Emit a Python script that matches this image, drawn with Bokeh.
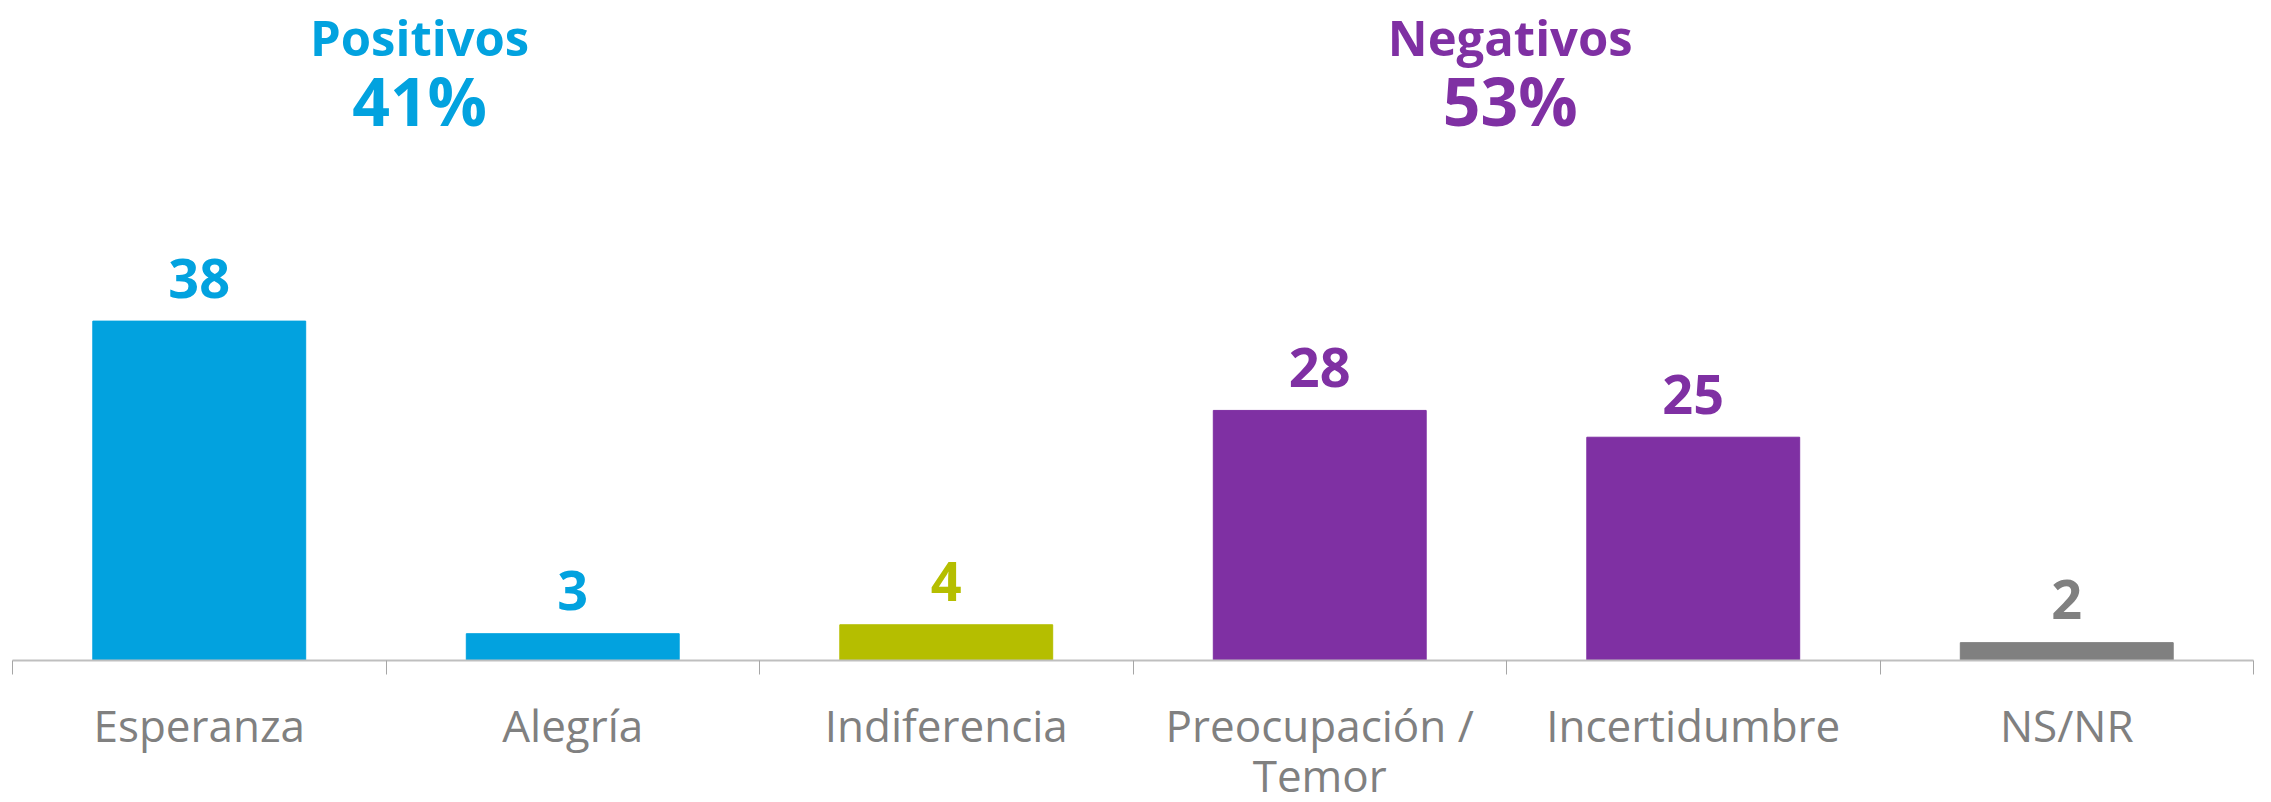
from bokeh.plotting import figure
from bokeh.models import Range1d, FixedTicker, ColumnDataSource
from bokeh.core.properties import value
from bokeh.embed import file_html
from bokeh.resources import INLINE

# ---- data ----
categories = ["Esperanza", "Alegría", "Indiferencia", "Preocupación /\nTemor", "Incertidumbre", "NS/NR"]
values = [38, 3, 4, 28, 25, 2]
colors = ["#02A2DF", "#02A2DF", "#B5BE00", "#7F30A3", "#7F30A3", "#808080"]
groups = ["Positivos", "Negativos"]
group_pct = [41, 53]
group_pos = [1.09, 4.01]
group_colors = ["#02A2DF", "#7F30A3"]

n = len(categories)
centers = [i + 0.5 for i in range(n)]

p = figure(frame_width=2241, frame_height=660, output_backend="svg", toolbar_location=None,
           x_range=Range1d(0, n), y_range=Range1d(0, 73.9),
           min_border_left=12, min_border_right=2, min_border_top=0, min_border_bottom=124)
p.outline_line_color = None
p.grid.grid_line_color = None
p.yaxis.visible = False

src = ColumnDataSource(dict(x=centers, top=values, color=colors,
                            label=[str(v) for v in values]))
p.vbar(x="x", top="top", width=0.57, bottom=0, color="color", source=src)
p.text(x="x", y="top", text="label", text_color="color", source=src,
       text_font=value("Open Sans"), text_font_style="bold", text_font_size="54px",
       text_align="center", text_baseline="alphabetic", y_offset=-43)

# group headers
hsrc = ColumnDataSource(dict(x=group_pos, name=groups, pct=[f"{v}%" for v in group_pct],
                             color=group_colors))
p.text(x="x", y=68.5, text="name", text_color="color", source=hsrc,
       text_font=value("Open Sans"), text_font_style="bold", text_font_size="49px",
       text_align="center", text_baseline="alphabetic", y_offset=-12)
p.text(x="x", y=60.1, text="pct", text_color="color", source=hsrc,
       text_font=value("Open Sans"), text_font_style="bold", text_font_size="66px",
       text_align="center", text_baseline="alphabetic", y_offset=-24)

# x axis
ax = p.xaxis[0]
ax.ticker = FixedTicker(ticks=centers, minor_ticks=list(range(n + 1)))
ax.major_label_overrides = {c: lab for c, lab in zip(centers, categories)}
ax.axis_line_color = "#BFBFBF"
ax.axis_line_width = 2
ax.major_tick_line_color = None
ax.major_tick_out = 14
ax.major_tick_in = 0
ax.minor_tick_line_color = "#A6A6A6"
ax.minor_tick_line_width = 1
ax.minor_tick_out = 14
ax.minor_tick_in = 0
ax.major_label_text_font = "Open Sans"
ax.major_label_text_font_size = "44px"
ax.major_label_text_line_height = 0.84
ax.major_label_text_color = "#808080"
ax.major_label_standoff = 20
ax.major_label_orientation = "horizontal"

open("out.html", "w").write(file_html(p, INLINE))
